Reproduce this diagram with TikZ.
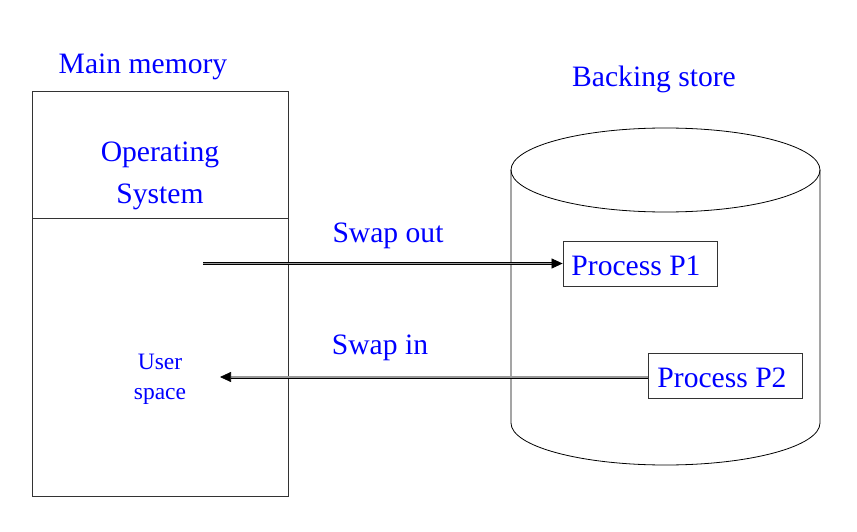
\documentclass[tikz,border=0pt]{standalone}
\usepackage{fontspec}
\setmainfont{Liberation Serif}
\usetikzlibrary{arrows.meta}
\definecolor{txtblue}{RGB}{0,0,255}
\begin{document}
\begin{tikzpicture}[x=1pt,y=-1pt,
  lbl/.style={text=txtblue,font=\fontsize{29.6}{33}\selectfont,inner sep=0pt},
  small/.style={text=txtblue,font=\fontsize{23.5}{30}\selectfont,inner sep=0pt,align=center},
  membox/.style={draw=black!80,line width=0.8pt,inner sep=0pt},
  procbox/.style={draw=black!80,line width=0.8pt,minimum width=154pt,minimum height=45pt,inner sep=0pt},
  proctext/.style={text=txtblue,font=\fontsize{29.6}{33}\selectfont,inner sep=0pt},
  swap/.style={double=black!40,double distance=1.6pt,line width=0.7pt,-{Triangle[length=11pt,width=10pt]}}]
\useasboundingbox (0,0) rectangle (857,532);
% main memory
\node[membox,minimum width=256pt,minimum height=127pt] (os) at (160,154.5) {};
\node[membox,minimum width=256pt,minimum height=278pt] (user) at (160,357) {};
\node[lbl,align=center,font=\fontsize{29.6}{42}\selectfont] (ostext) at (160,176) {Operating\\System};
\node[small] (usertext) at (160,379) {User\\space};
\node[lbl] (mmlabel) at (143,67) {Main memory};
% backing store cylinder
\draw[line width=0.8pt] (665.5,170) ellipse [x radius=154.5pt, y radius=42pt];
\draw[line width=0.8pt] (511,170) -- (511,423) arc [start angle=180, end angle=360, x radius=154.5pt, y radius=42pt] -- (820,170);
\node[lbl] (bslabel) at (654,79) {Backing store};
\node[procbox] (p1) at (640,263.5) {};
\node[proctext] (p1text) at (636,266) {Process P1};
\node[procbox] (p2) at (725,375.5) {};
\node[proctext] (p2text) at (722,378) {Process P2};
% arrows
\coordinate (outstart) at (203,263.5);
\coordinate (inend) at (220,377);
\draw[swap] (outstart) -- (p1.west);
\draw[swap] (p2.west |- inend) -- (inend);
\node[lbl] (swapout) at (388,236) {Swap out};
\node[lbl] (swapin) at (380,348) {Swap in};
\end{tikzpicture}
\end{document}
